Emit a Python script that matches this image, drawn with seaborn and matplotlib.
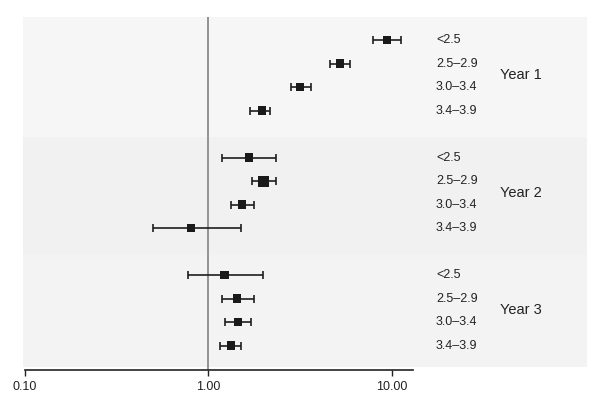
import numpy as np
import pandas as pd
import matplotlib
matplotlib.use("Agg")
import matplotlib.pyplot as plt
import matplotlib.transforms as mtransforms
from matplotlib.ticker import FixedLocator, FormatStrFormatter
import seaborn as sns

# ===============================
# Data (odds ratios with 95% CI)
# ===============================
years = ["Year 1", "Year 2", "Year 3"]
categories = ["<2.5", "2.5\u20132.9", "3.0\u20133.4", "3.4\u20133.9"]

est_y1 = [9.45, 5.24, 3.17, 1.96]
lo_y1 = [7.93, 4.62, 2.83, 1.69]
hi_y1 = [11.3, 5.94, 3.64, 2.18]

est_y2 = [1.67, 2.00, 1.53, 0.81]
lo_y2 = [1.19, 1.73, 1.33, 0.50]
hi_y2 = [2.35, 2.35, 1.77, 1.51]

est_y3 = [1.23, 1.44, 1.46, 1.33]
lo_y3 = [0.78, 1.19, 1.24, 1.16]
hi_y3 = [1.99, 1.78, 1.71, 1.51]

# relative weight (square size)
weight_y1 = [1.0, 1.0, 1.0, 1.0]
weight_y2 = [1.0, 1.5, 1.0, 0.9]
weight_y3 = [1.0, 1.0, 1.0, 1.0]

rows = []
for g, (yr, est, lo, hi, w) in enumerate(zip(
        years,
        [est_y1, est_y2, est_y3],
        [lo_y1, lo_y2, lo_y3],
        [hi_y1, hi_y2, hi_y3],
        [weight_y1, weight_y2, weight_y3])):
    for i, cat in enumerate(categories):
        rows.append({"year": yr, "cat": cat, "est": est[i], "lo": lo[i],
                     "hi": hi[i], "weight": w[i], "pos": g * 5 + i})
df = pd.DataFrame(rows)

# ===============================
# Plot
# ===============================
sns.set_style("white")
plt.rcParams["font.family"] = ["Liberation Sans", "DejaVu Sans"]

fig = plt.figure(figsize=(6.0, 4.04), dpi=100)
ax = fig.add_axes([0.0378, 0.0842, 0.9405, 0.8737])
ax.set_xscale("log")
ax.set_xlim(0.0977, 116)
ax.set_ylim(14.04, -0.98)

# alternating panel backgrounds
band_edges = [-0.98, 4.13, 9.15, 13.91]
band_colors = ["#f6f6f6", "#f1f1f1", "#f3f3f3"]
for k in range(3):
    ax.axhspan(band_edges[k], band_edges[k + 1], color=band_colors[k],
               lw=0, zorder=0)

# reference line at 1
ax.plot([1, 1], [-0.98, 14.04], color="#8a8a8a", lw=1.3, zorder=1)

# confidence intervals
ax.errorbar(df["est"], df["pos"],
            xerr=[df["est"] - df["lo"], df["hi"] - df["est"]],
            fmt="none", ecolor="#1e1e1e", elinewidth=1.2, capsize=3,
            capthick=1.2, zorder=2)

# point estimates
sns.scatterplot(data=df, x="est", y="pos", size="weight", sizes=(30, 62),
                marker="s", color="#1a1a1a", linewidth=0, legend=False,
                zorder=3, ax=ax)

# labels on the right
trans = mtransforms.blended_transform_factory(ax.transAxes, ax.transData)
for _, r in df.iterrows():
    ax.text(0.7324, r["pos"], r["cat"], transform=trans, fontsize=9,
            va="center", ha="left", color="#222222")
for g, yr in enumerate(years):
    ax.text(0.846, g * 5 + 1.5, yr, transform=trans, fontsize=10.5,
            va="center", ha="left", color="#222222")

# axes styling
for side in ["top", "right", "left"]:
    ax.spines[side].set_visible(False)
ax.spines["bottom"].set_bounds(0.1, 13.1)
ax.spines["bottom"].set_linewidth(1.2)
ax.spines["bottom"].set_color("#222222")
ax.xaxis.set_major_locator(FixedLocator([0.1, 1, 10]))
ax.xaxis.set_minor_locator(FixedLocator([]))
ax.xaxis.set_major_formatter(FormatStrFormatter("%.2f"))
ax.tick_params(axis="x", direction="out", length=4, width=1.0,
               colors="#222222", labelsize=9, pad=4, bottom=True)
ax.set_yticks([])
ax.set_xlabel("")
ax.set_ylabel("")

fig.savefig("out.png", dpi=100)
